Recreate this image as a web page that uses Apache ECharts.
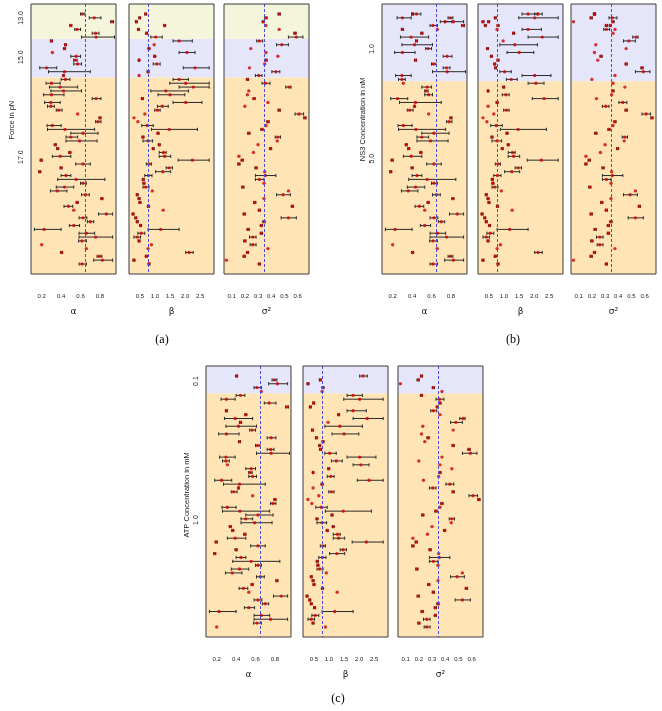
<!DOCTYPE html>
<html><head><meta charset="utf-8">
<script src="https://cdn.jsdelivr.net/npm/echarts@6/dist/echarts.min.js"></script>
<style>html,body{margin:0;padding:0;background:#fff}#c{width:662px;height:711px}</style>
</head><body><div id="c"></div>
<script>
// ---- per-molecule estimates (row order of panel (a)) ----
const alphaLo  = [0.60,0.69,0.91,0.49,0.54,0.72,0.61,0.29,0.435,0.425,0.31,0.50,0.53,0.53,0.18,0.27,0.42,0.40,0.245,0.28,0.295,0.22,0.72,0.23,0.26,0.35,0.57,0.79,0.755,0.255,0.26,0.50,0.45,0.45,0.33,0.355,0.48,0.31,0.185,0.55,0.39,0.17,0.40,0.365,0.60,0.35,0.29,0.61,0.81,0.555,0.43,0.53,0.785,0.585,0.67,0.485,0.125,0.585,0.585,0.58,0.20,0.66,0.395,0.77,0.735,0.585];
const alphaEst = [0.62,0.74,0.925,0.50,0.565,0.755,0.76,0.30,0.445,0.435,0.31,0.555,0.545,0.57,0.25,0.435,0.425,0.445,0.30,0.39,0.425,0.30,0.76,0.295,0.295,0.375,0.57,0.80,0.78,0.31,0.44,0.625,0.50,0.59,0.34,0.365,0.49,0.39,0.195,0.625,0.40,0.18,0.45,0.555,0.625,0.435,0.36,0.65,0.82,0.565,0.475,0.53,0.865,0.625,0.70,0.53,0.225,0.66,0.755,0.615,0.20,0.66,0.405,0.795,0.825,0.615];
const alphaHi  = [0.645,0.81,0.94,0.51,0.60,0.79,0.95,0.31,0.455,0.445,0.31,0.60,0.565,0.61,0.355,0.70,0.43,0.49,0.39,0.57,0.61,0.43,0.81,0.39,0.33,0.41,0.57,0.81,0.81,0.40,0.745,0.78,0.57,0.77,0.35,0.375,0.50,0.50,0.205,0.70,0.41,0.19,0.50,0.85,0.66,0.53,0.46,0.69,0.83,0.575,0.52,0.53,0.93,0.665,0.735,0.59,0.40,0.745,0.93,0.66,0.20,0.66,0.415,0.82,0.93,0.66];

const betaLo  = [0.66,0.46,0.35,1.29,0.42,0.69,0.86,1.60,0.97,0.77,1.80,0.96,0.45,0.94,1.94,0.74,0.47,1.60,1.49,1.80,0.86,1.10,0.55,1.60,1.08,0.99,0.66,0.30,0.43,0.56,0.88,1.07,0.57,0.60,1.11,0.91,1.14,1.14,1.77,0.71,1.37,1.02,0.66,0.58,0.60,0.60,0.91,0.38,0.44,0.47,0.75,1.27,0.24,0.33,0.38,0.49,0.77,0.43,0.30,0.44,0.88,0.77,2.02,0.68,0.27,0.77];
const betaEst = [0.69,0.49,0.38,1.32,0.45,0.72,1.02,1.80,0.97,0.80,2.06,0.99,0.47,1.06,2.33,0.77,0.47,1.80,2.02,2.27,1.36,1.50,0.58,2.02,1.24,1.08,0.66,0.30,0.43,0.74,1.47,1.10,0.60,0.77,1.14,0.94,1.28,1.32,2.24,0.80,1.47,1.26,0.78,0.61,0.63,0.69,0.91,0.41,0.47,0.50,0.78,1.27,0.27,0.36,0.41,0.52,1.19,0.54,0.41,0.47,0.88,0.77,2.13,0.71,0.30,0.80];
const betaHi  = [0.72,0.52,0.41,1.35,0.48,0.75,1.24,2.24,0.97,0.83,2.33,1.02,0.49,1.17,2.80,0.80,0.47,2.11,2.80,2.80,2.11,1.99,0.61,2.56,1.44,1.17,0.66,0.30,0.43,0.94,2.41,1.13,0.63,0.92,1.17,0.97,1.37,1.52,2.80,0.88,1.58,1.52,0.90,0.64,0.66,0.80,0.91,0.44,0.50,0.53,0.81,1.27,0.30,0.39,0.44,0.55,1.80,0.66,0.52,0.50,0.88,0.77,2.27,0.74,0.33,0.83];

const sigmaLo  = [0.452,0.352,0.332,0.36,0.46,0.572,0.53,0.29,0.44,0.245,0.36,0.45,0.352,0.35,0.235,0.405,0.28,0.212,0.33,0.51,0.23,0.22,0.262,0.375,0.20,0.452,0.58,0.647,0.367,0.36,0.322,0.222,0.43,0.445,0.30,0.387,0.265,0.155,0.172,0.147,0.277,0.35,0.28,0.28,0.345,0.177,0.53,0.44,0.345,0.267,0.552,0.302,0.187,0.475,0.337,0.317,0.217,0.317,0.235,0.192,0.24,0.375,0.212,0.187,0.06,0.302];
const sigmaEst = [0.46,0.36,0.34,0.36,0.46,0.58,0.59,0.31,0.48,0.245,0.36,0.45,0.36,0.35,0.235,0.435,0.305,0.22,0.355,0.535,0.23,0.22,0.27,0.375,0.20,0.46,0.61,0.655,0.375,0.36,0.33,0.23,0.45,0.445,0.30,0.395,0.265,0.155,0.18,0.155,0.285,0.35,0.355,0.31,0.345,0.185,0.53,0.49,0.345,0.275,0.56,0.31,0.195,0.53,0.345,0.325,0.225,0.325,0.26,0.20,0.26,0.375,0.22,0.195,0.06,0.31];
const sigmaHi  = [0.468,0.368,0.348,0.36,0.46,0.588,0.64,0.335,0.53,0.245,0.36,0.45,0.368,0.35,0.235,0.465,0.33,0.228,0.39,0.55,0.23,0.22,0.278,0.375,0.20,0.468,0.645,0.663,0.383,0.36,0.338,0.238,0.47,0.445,0.30,0.403,0.265,0.155,0.188,0.163,0.293,0.35,0.435,0.345,0.345,0.193,0.53,0.545,0.345,0.283,0.568,0.318,0.203,0.59,0.353,0.333,0.233,0.333,0.285,0.208,0.285,0.375,0.228,0.203,0.06,0.318];

// reference (dashed) values
const alphaRef = 0.65, betaRef = 0.78, sigmaRef = 0.35;

// ---- row orders (molecule numbers, top to bottom) ----
const orderForce = [1,2,3,4,5,6,7,8,9,10,11,12,13,14,15,16,17,18,19,20,21,22,23,24,25,26,27,28,29,30,31,32,33,34,35,36,37,38,39,40,41,42,43,44,45,46,47,48,49,50,51,52,53,54,55,56,57,58,59,60,61,62,63,64,65,66];
const orderNS3   = [18,19,2,3,8,4,20,9,21,5,22,23,10,1,6,7,24,25,11,12,13,14,15,16,17,26,27,28,29,30,31,32,33,34,35,36,37,38,39,40,41,42,43,44,45,46,47,48,49,50,51,52,53,54,55,56,57,58,59,60,61,62,63,64,65,66];
// molecules that are drawn a second time on the first rows of panel (b)
const overlayNS3 = [63,64,65,66,62];
const orderATP   = [63,64,65,66,62,18,19,2,3,8,4,20,9,21,5,22,23,10,1,6,7,24,25,11,12,13,14,15,16,17,26,27,28,29,30,31,32,33,34,35,36,37,38,39,40,41,42,43,44,45,46,47,48,49,50,51,52,53,54,55,56,57,58,59,60,61];

// ---- groups ----
const labelsForce = ['13.0','15.0','17.0'], sizesForce = [7,10,49];
const labelsNS3   = ['1.0','5.0'],          sizesNS3   = [18,48];
const labelsATP   = ['0.1','1.0'],          sizesATP   = [5,61];

// ---- tick labels ----
const alphaTicks = [0.2,0.4,0.6,0.8];
const betaTicks  = [0.5,1.0,1.5,2.0,2.5];
const sigmaTicks = [0.1,0.2,0.3,0.4,0.5,0.6];

// ================= layout / styling =================
const YMIN = -1.6, YMAX = 68.6, PW = 85;
const COL = {yellow:'#F5F5DC', blue:'#E6E6FA', orange:'#FFE4B5'};
const vars = [
  {name:'α',  lo:alphaLo, est:alphaEst, hi:alphaHi, min:0.09,  max:0.965, ticks:alphaTicks, ref:alphaRef, fmt:v=>v.toFixed(1)},
  {name:'β',  lo:betaLo,  est:betaEst,  hi:betaHi,  min:0.135, max:2.96,  ticks:betaTicks,  ref:betaRef,  fmt:v=>v.toFixed(1)},
  {name:'σ²', lo:sigmaLo, est:sigmaEst, hi:sigmaHi, min:0.042, max:0.686, ticks:sigmaTicks, ref:sigmaRef, fmt:v=>v.toFixed(1)}
];
// label anchor rows (layout) for group labels and axis titles
const blocks = [
  {order:orderForce, overlay:[], sizes:sizesForce, labels:labelsForce, labelAt:[2.0,12.2,38.2], titleAt:28.6,
   colors:[COL.yellow,COL.blue,COL.orange], title:'Force in pN', caption:'(a)', lefts:[31,129,224], top:4, height:270, capX:157, capY:329},
  {order:orderNS3, overlay:overlayNS3, sizes:sizesNS3, labels:labelsNS3, labelAt:[10.1,38.6], titleAt:28.4,
   colors:[COL.blue,COL.orange], title:'NS3 Concentration in nM', caption:'(b)', lefts:[382,478,571], top:4, height:270, capX:508, capY:329},
  {order:orderATP, overlay:[], sizes:sizesATP, labels:labelsATP, labelAt:[2.3,38.3], titleAt:31.8,
   colors:[COL.blue,COL.orange], title:'ATP Concentration in mM', caption:'(c)', lefts:[206,303,398], top:366, height:271, capX:333, capY:688}
];

function bandRender(params, api){
  const p0 = api.coord([api.value(0), api.value(2)]);
  const p1 = api.coord([api.value(1), api.value(3)]);
  return {type:'rect', shape:{x:p0[0], y:Math.min(p0[1],p1[1]), width:p1[0]-p0[0], height:Math.abs(p1[1]-p0[1])},
          style:{fill:api.visual('color')}};
}
function errRender(params, api){
  const lo = api.value(0), hi = api.value(1), r = api.value(2);
  if (hi - lo <= 0) return null;
  const a = api.coord([lo, r]), b = api.coord([hi, r]);
  const h = 1.6, st = {stroke:'#2a2a2a', lineWidth:1};
  return {type:'group', children:[
    {type:'line', shape:{x1:a[0],y1:a[1],x2:b[0],y2:b[1]}, style:st},
    {type:'line', shape:{x1:a[0],y1:a[1]-h,x2:a[0],y2:a[1]+h}, style:st},
    {type:'line', shape:{x1:b[0],y1:b[1]-h,x2:b[0],y2:b[1]+h}, style:st}
  ]};
}
function frameRender(params){
  const cs = params.coordSys;
  return {type:'rect', shape:{x:cs.x, y:cs.y, width:cs.width, height:cs.height}, style:{fill:'none', stroke:'#3a3a3a', lineWidth:1}};
}

const grids = [], xAxes = [], yAxes = [], series = [], titles = [];
blocks.forEach((b) => {
  const bounds = []; let acc = 0;
  b.sizes.forEach((s, i) => {
    const y0 = i === 0 ? YMIN : acc + 0.5;
    acc += s;
    const y1 = i === b.sizes.length - 1 ? YMAX : acc + 0.5;
    bounds.push([y0, y1]);
  });
  // (molecule, row) pairs for this block
  const placed = b.order.map((m, r) => [m, r + 1]).concat(b.overlay.map((m, r) => [m, r + 1]));
  titles.push({text:b.caption, left:b.capX, top:b.capY, textAlign:'center',
               textStyle:{fontFamily:'Liberation Serif', fontSize:12, fontWeight:'normal', color:'#000'}});
  vars.forEach((v, vi) => {
    const gi = grids.length;
    grids.push({left:b.lefts[vi], top:b.top, width:PW, height:b.height, containLabel:false});
    xAxes.push({gridIndex:gi, type:'value', min:v.min, max:v.max,
      axisLine:{show:false}, splitLine:{show:false},
      axisTick:{show:true, customValues:v.ticks, length:5, lineStyle:{color:'#333', width:1}},
      axisLabel:{customValues:v.ticks, formatter:v.fmt, fontSize:6, margin:19, color:'#222', fontFamily:'Liberation Sans'},
      name:v.name, nameLocation:'middle', nameGap:33,
      nameTextStyle:{fontSize:9, color:'#111', fontFamily:'DejaVu Sans'}});
    const yIdx = yAxes.length;
    yAxes.push({gridIndex:gi, type:'value', min:YMIN, max:YMAX, inverse:true,
      axisLine:{show:false}, axisTick:{show:false}, splitLine:{show:false},
      axisLabel: vi === 0 ? {show:true, customValues:b.labelAt, rotate:90, fontSize:7, margin:6, color:'#222', fontFamily:'Liberation Sans',
        formatter:(val) => { const i = b.labelAt.findIndex(r => Math.abs(r - val) < 1e-6); return i >= 0 ? b.labels[i] : ''; }} : {show:false}});
    if (vi === 0) {
      yAxes.push({gridIndex:gi, type:'value', min:YMIN, max:YMAX, inverse:true, position:'left',
        axisLine:{show:false}, axisTick:{show:false}, splitLine:{show:false},
        axisLabel:{show:true, customValues:[b.titleAt], rotate:90, fontSize:7.5, margin:15, color:'#222', fontFamily:'Liberation Sans',
          formatter:() => b.title}});
    }
    series.push({type:'custom', xAxisIndex:gi, yAxisIndex:yIdx, z:1, silent:true, renderItem:bandRender,
      encode:{x:[0,1], y:[2,3]},
      data:bounds.map((bd, i) => ({value:[v.min, v.max, bd[0], bd[1]], itemStyle:{color:b.colors[i]}}))});
    series.push({type:'custom', xAxisIndex:gi, yAxisIndex:yIdx, z:2, silent:true, renderItem:errRender,
      encode:{x:[0,1], y:2},
      data:placed.map(([m, r]) => [v.lo[m-1], v.hi[m-1], r])});
    series.push({type:'scatter', xAxisIndex:gi, yAxisIndex:yIdx, z:3, silent:true, symbol:'circle', symbolSize:3.4,
      itemStyle:{color:'#d00000'},
      data:placed.map(([m, r]) => [v.est[m-1], r]),
      markLine:{silent:true, symbol:'none', label:{show:false}, animation:false,
        lineStyle:{color:'#4b4bdc', type:[3,2], width:1}, data:[{xAxis:v.ref}]}});
    series.push({type:'custom', xAxisIndex:gi, yAxisIndex:yIdx, z:5, silent:true, renderItem:frameRender, clip:false,
      data:[[v.min, 1]]});
  });
});

const chart = echarts.init(document.getElementById('c'));
chart.setOption({animation:false, backgroundColor:'#fff', title:titles, grid:grids, xAxis:xAxes, yAxis:yAxes, series:series});
</script></body></html>
